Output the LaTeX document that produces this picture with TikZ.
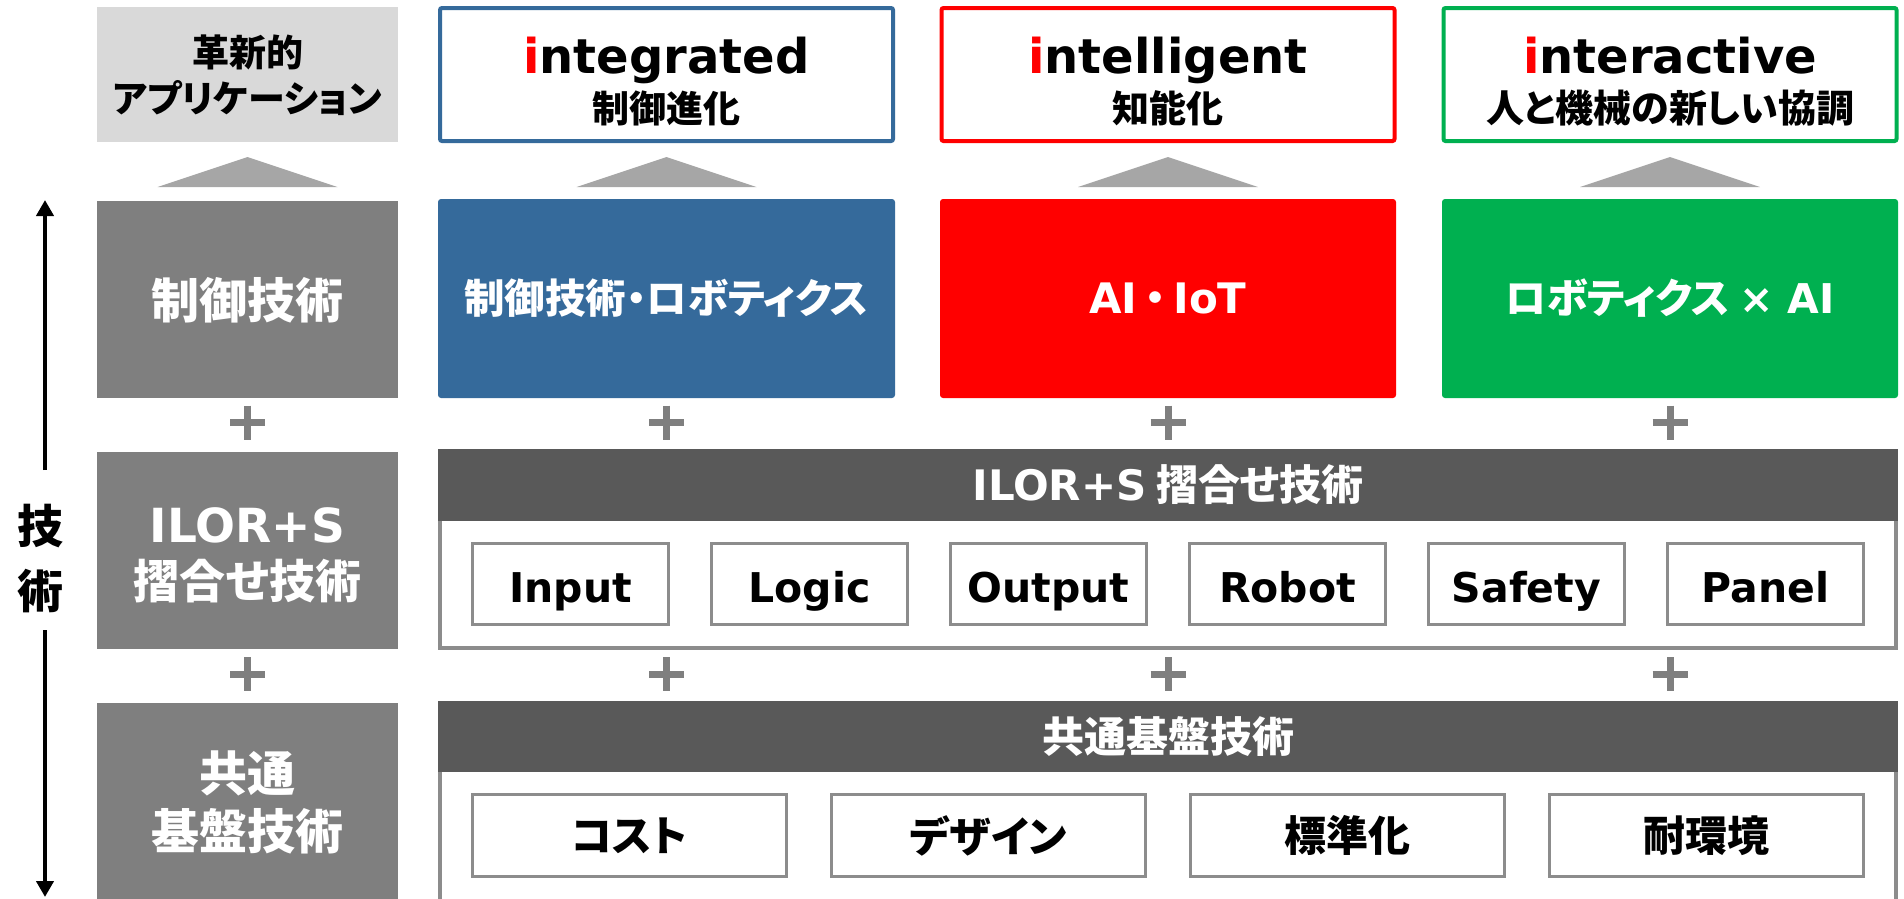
\documentclass[tikz,border=0pt]{standalone}
\usepackage{fontspec}
\setmainfont{Noto Sans CJK JP}[RawFeature=+palt]
\newfontfamily\jpw{Noto Sans CJK JP}
\newfontfamily\lat{DejaVu Sans}
\usetikzlibrary{arrows.meta,calc}
\definecolor{bluec}{HTML}{356A9B}
\definecolor{redc}{HTML}{FF0000}
\definecolor{greenc}{HTML}{00B050}
\definecolor{lightg}{HTML}{D9D9D9}
\definecolor{grayc}{HTML}{7F7F7F}
\definecolor{trig}{HTML}{A6A6A6}
\definecolor{darkg}{HTML}{595959}
\definecolor{panelg}{HTML}{8C8C8C}
\newcommand\fz[1]{\fontsize{#1}{#1}\selectfont}
\newcommand\uptri[1]{\fill[trig] ($(#1.south |- tb)+(-90,0)$) -- ($(#1.south |- tb)+(0,-30)$) -- ($(#1.south |- tb)+(90,0)$) -- cycle;}
\begin{document}
\begin{tikzpicture}[x=1pt,y=-1pt,
  every node/.style={inner sep=0pt, outer sep=0pt, font=\bfseries},
  topbox/.style={draw, line width=4pt, fill=white, minimum width=453pt, minimum height=133pt, rounded corners=2pt},
  toplat/.style={anchor=base, font=\bfseries\lat\fz{48}},
  topjp/.style={font=\bfseries\fz{37}},
  colbox/.style={minimum width=457pt, minimum height=199pt, rounded corners=3pt, text=white},
  graybox/.style={fill=grayc, minimum width=301pt},
  whitejp/.style={text=white, font=\bfseries\fz{48}},
  panel/.style={draw=panelg, line width=4pt, minimum width=1456pt},
  header/.style={fill=darkg, minimum width=1460pt, text=white, font=\bfseries\fz{42}},
  ibox/.style={draw=panelg, line width=3pt, fill=white, minimum width=196pt, minimum height=81pt, font=\bfseries\lat\fz{41}, text height=36pt, text depth=0pt},
  jbox/.style={draw=panelg, line width=3pt, fill=white, minimum width=314pt, minimum height=82pt, font=\bfseries\fz{42}},
  plussign/.pic={\draw[grayc, line width=7pt] (-17.5,0) -- (17.5,0) (0,-17) -- (0,17);},
  arr/.style={line width=4.5pt, -{Triangle[width=17pt,length=16pt]}}
]
\useasboundingbox (0,0) rectangle (1904,898);
\clip (0,0) rectangle (1904,898);
\coordinate (tb) at (0,187);
\coordinate (pr1) at (0,422.5);
\coordinate (pr2) at (0,674);

% row 1: goals
\node[fill=lightg, minimum width=301pt, minimum height=135pt] (app) at (247.5,74.5) {};
\node[topjp] (appA) at (247.5,52) {革新的};
\node[topjp] (appB) at (247.5,98) {アプリケーション};

\node[topbox, draw=bluec] (integ) at (666.5,74.5) {};
\node[toplat] (integA) at (666.5,73) {\textcolor{redc}{i}ntegrated};
\node[topjp] (integB) at (666.5,108) {制御進化};

\node[topbox, draw=redc] (intel) at (1168,74.5) {};
\node[toplat] (intelA) at (1168,73) {\textcolor{redc}{i}ntelligent};
\node[topjp] (intelB) at (1168,108) {知能化};

\node[topbox, draw=greenc] (inter) at (1670,74.5) {};
\node[toplat] (interA) at (1670,73) {\textcolor{redc}{i}nteractive};
\node[topjp, font=\bfseries\fz{38}] (interB) at (1670,108) {人と機械の新しい協調};

% row 2
\node[graybox, minimum height=197pt] (ctl) at (247.5,299.5) {};
\node[whitejp] (ctlT) at (247.5,300) {制御技術};
\node[colbox, fill=bluec, font=\bfseries\fz{40.5}] (rob) at (666.5,298.5) {制御技術・ロボティクス};
\node[colbox, fill=redc, minimum width=456pt, font=\bfseries\fz{42}] (ai) at (1168,298.5) {{\lat AI}\kern-3pt{\jpw ・}\kern-3pt{\lat IoT}};
\node[colbox, fill=greenc, minimum width=456pt, font=\bfseries\fz{41}] (rai) at (1670,298.5) {ロボティクス {\lat × AI}};

\uptri{app}
\uptri{integ}
\uptri{intel}
\uptri{inter}

\foreach \n in {ctl,rob,ai,rai} {
  \pic at (\n.south |- pr1) {plussign};
  \pic at (\n.south |- pr2) {plussign};
}

% row 3
\node[graybox, minimum height=197pt] (ilor) at (247.5,550.5) {};
\node[anchor=base, text=white, font=\bfseries\lat\fz{47}] (ilorA) at (247.5,542) {ILOR+S};
\node[whitejp, font=\bfseries\fz{46}] (ilorB) at (247.5,581) {摺合せ技術};

\node[panel, minimum height=197pt] (pan1) at (1168,549.5) {};
\node[header, minimum height=72pt] (hd1) at (1168,485) {{\lat ILOR+S} 摺合せ技術};
\foreach \t [count=\i from 0] in {Input,Logic,Output,Robot,Safety,Panel}
  \node[ibox] (b\i) at ({570.5+239*\i},584) {\t};

% row 4
\node[graybox, minimum height=200pt] (kiban) at (247.5,803) {};
\node[whitejp] (kibA) at (247.5,773) {共通};
\node[whitejp] (kibB) at (247.5,831) {基盤技術};

\node[panel, minimum height=210pt] (pan2) at (1168,808) {};
\node[header, minimum height=71pt] (hd2) at (1168,736.5) {共通基盤技術};
\foreach \t [count=\i from 0] in {コスト,デザイン,標準化,耐環境}
  \node[jbox] (c\i) at ({629.5+359*\i},835.5) {\t};

% left axis
\node[font=\bfseries\fz{46}] (tech1) at (40,526) {技};
\node[font=\bfseries\fz{46}] (tech2) at (40,591) {術};
\coordinate (atop) at (45,200);
\coordinate (abot) at (45,897);
\coordinate (g1) at (45,470);
\coordinate (g2) at (45,630);
\draw[arr] (g1) -- (atop);
\draw[arr] (g2) -- (abot);
\end{tikzpicture}
\end{document}
